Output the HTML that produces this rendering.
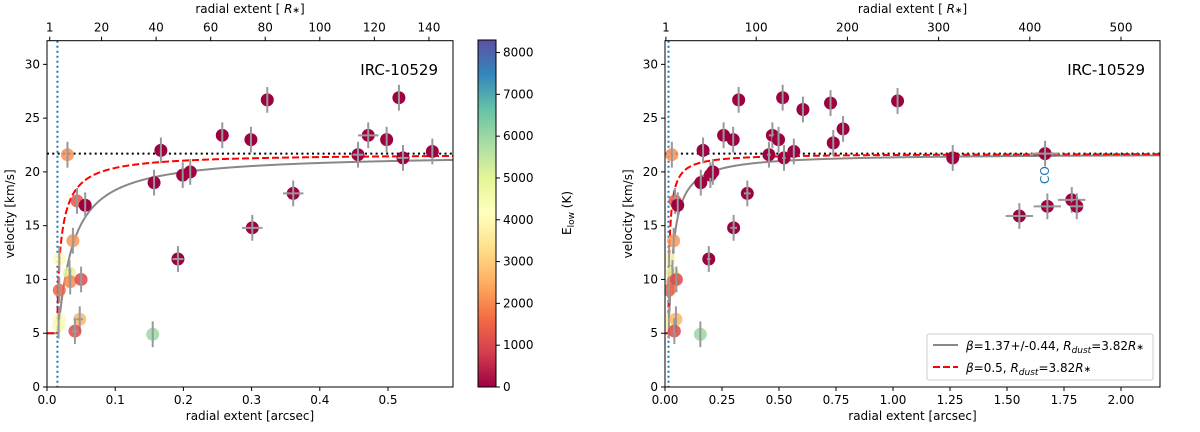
<!DOCTYPE html>
<html><head><meta charset="utf-8"><style>
body{margin:0;background:#fff;font-family:"DejaVu Sans","Liberation Sans",sans-serif;}
svg text{font-family:"DejaVu Sans","Liberation Sans",sans-serif;fill:#000;}
</style></head><body>
<svg id="c" width="1200" height="428" xmlns="http://www.w3.org/2000/svg">
<defs><linearGradient id="cg" x1="0" y1="1" x2="0" y2="0">
<stop offset="0" stop-color="#9e0142"/><stop offset="0.1" stop-color="#d53e4f"/><stop offset="0.2" stop-color="#f46d43"/><stop offset="0.3" stop-color="#fdae61"/><stop offset="0.4" stop-color="#fee08b"/><stop offset="0.5" stop-color="#ffffbf"/><stop offset="0.6" stop-color="#e6f598"/><stop offset="0.7" stop-color="#abdda4"/><stop offset="0.8" stop-color="#66c2a5"/><stop offset="0.9" stop-color="#3288bd"/><stop offset="1" stop-color="#5e4fa2"/>
</linearGradient></defs>
</svg>
<script>
const radius=[0.030,0.167,0.157,0.199,0.210,0.257,0.299,0.323,0.301,0.192,0.361,0.155,0.456,0.471,0.498,0.516,0.522,0.565,0.044,0.056,0.038,0.018,0.033,0.034,0.050,0.018,0.018,0.017,0.048,0.041,0.605,0.726,0.738,0.781,1.02,1.262,1.667,1.554,1.677,1.784,1.806];
const velocity=[21.6,22.0,19.0,19.7,20.0,23.4,23.0,26.7,14.8,11.9,18.0,4.9,21.6,23.4,23.0,26.9,21.3,21.9,17.3,16.9,13.6,11.9,10.6,9.8,10.0,9.0,6.3,5.7,6.3,5.2,25.8,26.4,22.7,24.0,26.6,21.3,21.7,15.9,16.8,17.4,16.8];
const elow=[2100,0,0,0,0,0,0,0,0,0,0,6000,0,0,0,0,0,0,1200,0,2200,4000,5000,2000,1000,1500,4000,4500,2600,1000,0,0,0,0,0,0,0,0,0,0,0];
const xerr=[0,0,0,0,0,0,0,0,0.015,0.008,0.015,0,0.008,0.015,0,0,0.008,0,0,0,0,0,0,0,0,0,0,0,0.005,0.005,0,0,0,0,0,0,0.06,0.06,0.06,0.06,0.03];
const leftXTicks=[0,0.1,0.2,0.3,0.4,0.5];
const rightXTicks=[0,0.25,0.5,0.75,1.0,1.25,1.5,1.75,2.0];
const yTicks=[0,5,10,15,20,25,30];
const leftTopTicks=[1,20,40,60,80,100,120,140];
const rightTopTicks=[1,100,200,300,400,500];
const cbTicks=[0,1000,2000,3000,4000,5000,6000,7000,8000];
const rStarArcsec=0.004, rDust=0.0153, v0=5, vInf=21.7, betaFit=1.37, betaFixed=0.5;
const NS="http://www.w3.org/2000/svg", svg=document.getElementById('c');
function el(t,a,p){const e=document.createElementNS(NS,t);for(const k in a)e.setAttribute(k,a[k]);(p||svg).appendChild(e);return e;}
const stops=[[0,[158,1,66]],[.1,[213,62,79]],[.2,[244,109,67]],[.3,[253,174,97]],[.4,[254,224,139]],[.5,[255,255,191]],[.6,[230,245,152]],[.7,[171,221,164]],[.8,[102,194,165]],[.9,[50,136,189]],[1,[94,79,162]]];
function cmap(t){t=Math.max(0,Math.min(1,t));for(let i=1;i<stops.length;i++){if(t<=stops[i][0]){const a=stops[i-1],b=stops[i],f=(t-a[0])/(b[0]-a[0]);return 'rgb('+a[1].map((c,j)=>Math.round(c+(b[1][j]-c)*f)).join(',')+')';}}return 'rgb(94,79,162)';}
function vel(r,b){return r<rDust?v0:v0+(vInf-v0)*Math.pow(1-rDust/r,b);}
function panel(name,L,R,xmax,xticks,xfmt,topticks,legend){
 const T=40.7,B=387,ymax=32.2;
 const g=el('g',{});
 const X=v=>L+v/xmax*(R-L), Y=v=>B-v/ymax*(B-T);
 const clip='cl'+name;const cp=el('clipPath',{id:clip},g);el('rect',{x:L,y:T,width:R-L,height:B-T},cp);
 const plot=el('g',{'clip-path':'url(#'+clip+')'},g);
 // curves
 let p1='',p2='';for(let i=0;i<=600;i++){const r=xmax*Math.pow(i/600,2);p1+=(i?'L':'M')+X(r).toFixed(2)+','+Y(vel(r,betaFit)).toFixed(2);p2+=(i?'L':'M')+X(r).toFixed(2)+','+Y(vel(r,betaFixed)).toFixed(2);}
 el('line',{x1:X(rDust),x2:X(rDust),y1:T,y2:B,stroke:'#1f77b4','stroke-width':2,'stroke-dasharray':'2,3'},plot);
 const hl=el('line',{x1:L,x2:R,y1:Y(vInf),y2:Y(vInf),stroke:'#000','stroke-width':2,'stroke-dasharray':'2,3.3'},plot);
 const c1=el('path',{d:p1,fill:'none',stroke:'#888','stroke-width':2},plot);
 const c2=el('path',{d:p2,fill:'none',stroke:'#f00','stroke-width':2,'stroke-dasharray':'7,3'},plot);
 radius.forEach((r,i)=>{const cx=X(r),cy=Y(velocity[i]);
  const d=el('circle',{cx:cx,cy:cy,r:6.5,fill:cmap(elow[i]/8300),'fill-opacity':elow[i]>0?0.85:1},plot);
  
  el('line',{x1:cx,x2:cx,y1:Y(velocity[i]-1.2),y2:Y(velocity[i]+1.2),stroke:'#999','stroke-width':2},plot);
  if(xerr[i]>0)el('line',{x1:X(r-xerr[i]),x2:X(r+xerr[i]),y1:cy,y2:cy,stroke:'#999','stroke-width':2},plot);
 });
 el('rect',{x:L,y:T,width:R-L,height:B-T,fill:'none',stroke:'#000','stroke-width':1},g);
 xticks.forEach(v=>{const x=X(v);el('line',{x1:x,x2:x,y1:B,y2:B+4,stroke:'#000'},g);const t=el('text',{x:x,y:B+17,'font-size':12,'text-anchor':'middle'},g);t.textContent=xfmt(v);});
 yTicks.forEach(v=>{const y=Y(v);el('line',{x1:L-4,x2:L,y1:y,y2:y,stroke:'#000'},g);const t=el('text',{x:L-7,y:y+4,'font-size':12,'text-anchor':'end'},g);t.textContent=v;});
 topticks.forEach(v=>{const x=X(v*rStarArcsec);el('line',{x1:x,x2:x,y1:T-4,y2:T,stroke:'#000'},g);const t=el('text',{x:x,y:T-9,'font-size':12,'text-anchor':'middle'},g);t.textContent=v;});
 const xl=el('text',{x:(L+R)/2,y:420,'font-size':12,'text-anchor':'middle'},g);xl.textContent='radial extent [arcsec]';
 const tl=el('text',{x:(L+R)/2,y:13,'font-size':12,'text-anchor':'middle'},g);tl.innerHTML='radial extent [ <tspan font-style="italic">R</tspan><tspan font-size="9">∗</tspan>]';
 const yl=el('text',{x:0,y:0,'font-size':12,'text-anchor':'middle',transform:'translate('+(L-33)+','+((T+B)/2)+') rotate(-90)'},g);yl.textContent='velocity [km/s]';
 const lab=el('text',{x:R-15,y:75,'font-size':15,'text-anchor':'end'},g);lab.textContent='IRC-10529';
 return {X,Y,g};
}
panel('left-panel',47,453,0.5953,leftXTicks,v=>v.toFixed(1),leftTopTicks,false);
const rp=panel('right-panel',665,1160,2.171,rightXTicks,v=>v.toFixed(2),rightTopTicks,true);
const co=el('text',{x:0,y:0,'font-size':12,fill:'#1f77b4','text-anchor':'middle',transform:'translate('+(rp.X(1.667)+4)+','+rp.Y(19.7)+') rotate(-90)'});co.setAttribute('fill','#1f77b4');co.style.fill='#1f77b4';co.textContent='CO';

// legend
const lg=el('g',{});
el('rect',{x:927,y:334,width:226,height:46,fill:'#fff',stroke:'#ccc',rx:2},lg);
el('line',{x1:933,x2:958,y1:345,y2:345,stroke:'#888','stroke-width':2},lg);
el('line',{x1:933,x2:958,y1:367,y2:367,stroke:'#f00','stroke-width':2,'stroke-dasharray':'7,3'},lg);
const l1=el('text',{x:966,y:350,'font-size':12},lg);l1.innerHTML='<tspan font-style="italic">β</tspan>=1.37+/-0.44, <tspan font-style="italic">R</tspan><tspan font-size="9" dy="3" font-style="italic">dust</tspan><tspan dy="-3">=3.82</tspan><tspan font-style="italic">R</tspan><tspan font-size="9">∗</tspan>';

const l2=el('text',{x:966,y:372,'font-size':12},lg);l2.innerHTML='<tspan font-style="italic">β</tspan>=0.5, <tspan font-style="italic">R</tspan><tspan font-size="9" dy="3" font-style="italic">dust</tspan><tspan dy="-3">=3.82</tspan><tspan font-style="italic">R</tspan><tspan font-size="9">∗</tspan>';

// colorbar
const cb=el('g',{});
const cT=40,cB=387,cMax=8300,CY=v=>cB-v/cMax*(cB-cT);
el('rect',{x:478,y:cT,width:18,height:cB-cT,fill:'url(#cg)',stroke:'#000','stroke-width':1},cb);
cbTicks.forEach(v=>{const y=CY(v);el('line',{x1:496,x2:500,y1:y,y2:y,stroke:'#000'},cb);const t=el('text',{x:503,y:y+4,'font-size':12},cb);t.textContent=v;});
const ct=el('text',{x:0,y:0,'font-size':12,'text-anchor':'middle',transform:'translate(571,213) rotate(-90)'},cb);ct.innerHTML='E<tspan font-size="9" dy="3">low</tspan><tspan dy="-3"> (K)</tspan>';

</script>
</body></html>
